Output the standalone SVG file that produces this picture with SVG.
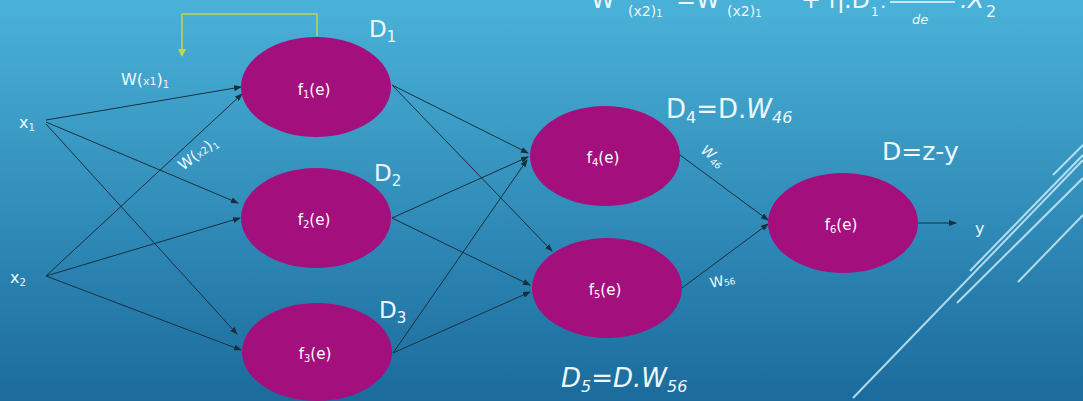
<svg xmlns="http://www.w3.org/2000/svg" width="1083" height="401" viewBox="0 0 1083 401">
<defs>
<linearGradient id="bg" x1="0" y1="0" x2="0" y2="1">
<stop offset="0" stop-color="#4ab2d8"/>
<stop offset="1" stop-color="#1b6b9d"/>
</linearGradient>
<marker id="arr" markerUnits="userSpaceOnUse" markerWidth="8" markerHeight="6" refX="7" refY="3" orient="auto">
<path d="M0,0 L8,3 L0,6 z" fill="#17303d"/>
</marker>
<marker id="arrG" markerUnits="userSpaceOnUse" markerWidth="8" markerHeight="8" refX="7" refY="4" orient="auto">
<path d="M0,0 L8,4 L0,8 z" fill="#c2d844"/>
</marker>
</defs>
<style>
.node{fill:#a3107e}
.lbl{fill:#ffffff;font-family:"DejaVu Sans","Liberation Sans",sans-serif;font-size:15px}
.t{fill:#eef8fc;font-family:"DejaVu Sans","Liberation Sans",sans-serif}
.c{stroke:#17303d;stroke-width:1;fill:none;marker-end:url(#arr)}
.deco{stroke:#c8ecf7;stroke-width:2;fill:none;opacity:0.85}
</style>
<rect width="1083" height="401" fill="url(#bg)"/>

<g id="decoration">
<line class="deco" x1="853" y1="398" x2="1083" y2="160"/>
<line class="deco" x1="970" y1="271" x2="1083" y2="155"/>
<line class="deco" x1="957" y1="303" x2="1083" y2="178"/>
<line class="deco" x1="1053" y1="175" x2="1083" y2="145"/>
<line class="deco" x1="1018" y1="282" x2="1083" y2="215"/>
</g>

<g id="connectors">
<line class="c" x1="46" y1="120" x2="241" y2="87"/>
<line class="c" x1="46" y1="122" x2="238" y2="203"/>
<line class="c" x1="46" y1="124" x2="237" y2="334"/>
<line class="c" x1="46" y1="276" x2="242" y2="94"/>
<line class="c" x1="46" y1="276" x2="240" y2="218"/>
<line class="c" x1="46" y1="276" x2="241" y2="350"/>
<line class="c" x1="392" y1="85" x2="528" y2="153"/>
<line class="c" x1="392" y1="85" x2="552" y2="251"/>
<line class="c" x1="392" y1="218" x2="528" y2="157"/>
<line class="c" x1="392" y1="218" x2="530" y2="285"/>
<line class="c" x1="393" y1="353" x2="527" y2="160"/>
<line class="c" x1="393" y1="353" x2="530" y2="292"/>
<line class="c" x1="680" y1="155" x2="768" y2="220"/>
<line class="c" x1="682" y1="288" x2="768" y2="224"/>
<line class="c" x1="918" y1="223" x2="956" y2="223"/>
<polyline points="317,36 317,14 182,14 182,56" fill="none" stroke="#c2d844" stroke-width="1.5" marker-end="url(#arrG)"/>
</g>

<g id="n1"><ellipse class="node" cx="316" cy="87" rx="75" ry="50"/>
<text class="lbl" x="314" y="95" text-anchor="middle">f<tspan font-size="10" dy="3">1</tspan><tspan dy="-3">(e)</tspan></text></g>
<g id="n2"><ellipse class="node" cx="316" cy="218" rx="75" ry="50"/>
<text class="lbl" x="314" y="225" text-anchor="middle">f<tspan font-size="10" dy="3">2</tspan><tspan dy="-3">(e)</tspan></text></g>
<g id="n3"><ellipse class="node" cx="317" cy="352" rx="75" ry="49"/>
<text class="lbl" x="315" y="359" text-anchor="middle">f<tspan font-size="10" dy="3">3</tspan><tspan dy="-3">(e)</tspan></text></g>
<g id="n4"><ellipse class="node" cx="605" cy="156" rx="75" ry="50"/>
<text class="lbl" x="603" y="163" text-anchor="middle">f<tspan font-size="10" dy="3">4</tspan><tspan dy="-3">(e)</tspan></text></g>
<g id="n5"><ellipse class="node" cx="607" cy="288" rx="75" ry="50"/>
<text class="lbl" x="605" y="295" text-anchor="middle">f<tspan font-size="10" dy="3">5</tspan><tspan dy="-3">(e)</tspan></text></g>
<g id="n6"><ellipse class="node" cx="843" cy="223" rx="75" ry="50"/>
<text class="lbl" x="841" y="230" text-anchor="middle">f<tspan font-size="10" dy="3">6</tspan><tspan dy="-3">(e)</tspan></text></g>

<g id="labels">
<text class="t" x="19" y="128" font-size="16">x<tspan font-size="10" dy="3">1</tspan></text>
<text class="t" x="10" y="283" font-size="16">x<tspan font-size="10" dy="3">2</tspan></text>
<text class="t" x="975" y="234" font-size="16">y</text>
<text class="t" x="121" y="85" font-size="16">W(<tspan font-size="11">x1</tspan>)<tspan font-size="10" dy="3">1</tspan></text>
<text class="t" transform="translate(183,171) rotate(-37)" font-size="15">W(<tspan font-size="10">x2</tspan>)<tspan font-size="9" dy="3">1</tspan></text>
<text class="t" x="369" y="37" font-size="23">D<tspan font-size="15" dy="5">1</tspan></text>
<text class="t" x="374" y="181" font-size="23">D<tspan font-size="15" dy="5">2</tspan></text>
<text class="t" x="379" y="318" font-size="23">D<tspan font-size="15" dy="5">3</tspan></text>
<text class="t" x="666" y="118" font-size="26">D<tspan font-size="16" dy="5">4</tspan><tspan dy="-5">=D.</tspan><tspan font-style="italic">W</tspan><tspan font-size="16" dy="5" font-style="italic">46</tspan></text>
<text class="t" x="561" y="387" font-size="26" font-style="italic">D<tspan font-size="16" dy="5">5</tspan><tspan dy="-5">=D.W</tspan><tspan font-size="16" dy="5">56</tspan></text>
<text class="t" x="882" y="160" font-size="25">D=z-y</text>
<text class="t" transform="translate(700,152) rotate(37)" font-size="14" font-style="italic">W<tspan font-size="9" dy="3">46</tspan></text>
<text class="t" transform="translate(711,288) rotate(-12)" font-size="14">W<tspan font-size="9" dy="1">56</tspan></text>
</g>

<g id="formula">
<text class="t" x="591" y="8" font-size="24">W</text>
<text class="t" x="628" y="16" font-size="14">(x2)<tspan font-size="10" dy="1">1</tspan></text>
<text class="t" x="676" y="8" font-size="24">=W</text>
<text class="t" x="727" y="16" font-size="14">(x2)<tspan font-size="10" dy="1">1</tspan></text>
<text class="t" x="801" y="8" font-size="24">+ η.D</text>
<text class="t" x="871" y="16" font-size="12">1</text>
<text class="t" x="880" y="8" font-size="20">.</text>
<line x1="890" y1="2" x2="955" y2="2" stroke="#eef8fc" stroke-width="1.5"/>
<text class="t" x="912" y="24" font-size="13" font-style="italic">de</text>
<text class="t" x="960" y="8" font-size="24" font-style="italic">.X</text>
<text class="t" x="986" y="17" font-size="16">2</text>
</g>
</svg>
